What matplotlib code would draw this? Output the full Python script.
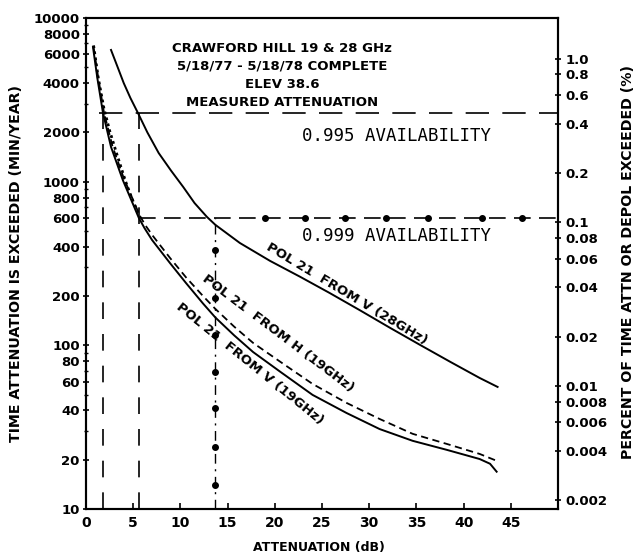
import numpy as np
import matplotlib
matplotlib.use("Agg")
import matplotlib.pyplot as plt
from matplotlib.ticker import FixedLocator, NullLocator, NullFormatter

# ---------------- data ----------------
# POL 21 FROM V (28 GHz), solid
v28_db  = [2.65, 3.3, 4.0, 4.7, 5.5, 6.5, 7.7, 9.0, 10.3, 11.5, 12.8, 13.7, 16.3, 19.5,
           22.7, 25.8, 29.0, 32.2, 35.4, 38.6, 41.7, 43.6]
v28_min = [6380, 5100, 4000, 3250, 2630, 2000, 1496, 1170, 928, 740, 610, 545, 422, 328,
           262, 209, 164, 128, 100.5, 79.2, 63.2, 55.7]

# POL 21 FROM V (19 GHz), solid
v19_db  = [0.74, 1.2, 1.8, 2.65, 3.9, 5.6, 6.2, 7.0, 8.9, 10.6, 12.4, 13.7, 15.7, 17.7,
           20.6, 24.0, 27.6, 31.1, 34.6, 38.2, 41.7, 42.8, 43.5]
v19_min = [6650, 4300, 2630, 1630, 1023, 600, 520, 440, 318, 240, 180, 148, 115, 91,
           68.8, 49.8, 38.6, 30.8, 26.1, 23.0, 20.2, 18.9, 16.9]

# POL 21 FROM H (19 GHz), dashed
h19_db  = [0.8, 1.3, 1.9, 2.8, 4.0, 5.7, 6.3, 7.1, 8.9, 10.6, 12.4, 13.7, 15.7, 17.7,
           20.6, 24.0, 27.6, 31.1, 34.6, 38.2, 41.7, 43.5]
h19_min = [6650, 4300, 2650, 1650, 1050, 620, 540, 465, 342, 260, 200, 167, 130, 103.5,
           79.2, 58.1, 44.5, 35.5, 28.8, 25.0, 21.7, 19.7]

# dotted trace (upper left)
dot_db  = [0.8, 1.3, 1.9, 2.5, 3.3, 4.2, 5.0, 5.6]
dot_min = [6800, 4300, 2800, 2050, 1450, 1000, 750, 630]

# availability levels (min/year) and the attenuations marked
avail_995_min = 2630
avail_999_min = 600
att_19_995 = 1.85
att_28_995 = 5.6
att_28_999 = 13.7
dots_999_db = [19.0, 23.2, 27.4, 31.8, 36.2, 41.9, 46.2]
dots_vert_min = [383, 195, 115, 69, 41.5, 24, 14]

left_ticks = [10, 20, 40, 60, 80, 100, 200, 400, 600, 800, 1000, 2000, 4000, 6000, 8000, 10000]
left_minor = [30, 50, 70, 90, 300, 500, 700, 900, 3000, 5000, 7000, 9000]
pct_ticks = [1.0, 0.8, 0.6, 0.4, 0.2, 0.1, 0.08, 0.06, 0.04, 0.02, 0.01, 0.008, 0.006, 0.004, 0.002]
pct_labels = ["1.0", "0.8", "0.6", "0.4", "0.2", "0.1", "0.08", "0.06", "0.04", "0.02",
              "0.01", "0.008", "0.006", "0.004", "0.002"]
x_ticks = [0, 5, 10, 15, 20, 25, 30, 35, 40, 45]
MIN_PER_PCT = 5650.0

title_lines = ["CRAWFORD HILL 19 & 28 GHz", "5/18/77 - 5/18/78 COMPLETE",
               "ELEV 38.6", "MEASURED ATTENUATION"]

# ---------------- figure ----------------
W, H = 635, 555
fig = plt.figure(figsize=(W / 100, H / 100), dpi=100)
L, R, T, B = 86, 558, 18, 509
ax = fig.add_axes([L / W, 1 - B / H, (R - L) / W, (B - T) / H])
ax.set_yscale("log")
ax.set_xlim(0, 50)
ax.set_ylim(10, 10000)

bold = dict(fontweight="bold", family="DejaVu Sans")

# curves
ax.plot(v28_db, v28_min, color="black", lw=1.4, solid_joinstyle="round")
ax.plot(v19_db, v19_min, color="black", lw=1.4, solid_joinstyle="round")
ax.plot(h19_db, h19_min, color="black", lw=1.3, linestyle=(0, (4, 2.5)))
ax.plot(dot_db, dot_min, color="black", lw=2.0, linestyle=(0, (1, 1.2)))

# availability lines
ax.plot([1.4, 50], [avail_995_min, avail_995_min], color="black", lw=1.2,
        linestyle=(0, (14, 8)))
ax.plot([att_28_995, 50], [avail_999_min, avail_999_min], color="black", lw=1.2,
        linestyle=(0, (10, 5)))
ax.plot(dots_999_db, [avail_999_min] * len(dots_999_db), "o", color="black", ms=4)

ax.plot([att_19_995, att_19_995], [10, avail_995_min], color="black", lw=1.2,
        linestyle=(0, (10, 9)))
ax.plot([att_28_995, att_28_995], [10, avail_995_min], color="black", lw=1.2,
        linestyle=(0, (10, 9)))
ax.plot([att_28_999, att_28_999], [10, avail_999_min], color="black", lw=1.0,
        linestyle=(0, (7, 4, 1.5, 4)))
ax.plot([att_28_999] * len(dots_vert_min), dots_vert_min, "o", color="black", ms=4)

# texts
tx = (282 - L) / (R - L)
for s, py in zip(title_lines, [49, 66, 85, 103]):
    ax.text(tx, 1 - (py - T) / (B - T), s, transform=ax.transAxes, ha="center",
            va="center", fontsize=9.5, **bold)

ax.text((302 - L) / (R - L), 1 - (136 - T) / (B - T), "0.995 AVAILABILITY",
        transform=ax.transAxes, ha="left", va="center", fontsize=12.5,
        family="DejaVu Sans Mono")
ax.text((302 - L) / (R - L), 1 - (236 - T) / (B - T), "0.999 AVAILABILITY",
        transform=ax.transAxes, ha="left", va="center", fontsize=12.5,
        family="DejaVu Sans Mono")

def lbl(px, py, s, ang):
    ax.text((px - L) / (R - L), 1 - (py - T) / (B - T), s, transform=ax.transAxes,
            ha="center", va="center", rotation=ang, rotation_mode="anchor",
            fontsize=9.5, **bold)

lbl(347, 294, "POL 21  FROM V (28GHz)", -31)
lbl(278, 333, "POL 21  FROM H (19GHz)", -37)
lbl(250, 364, "POL 21  FROM V (19GHz)", -39)

# axes styling
for sp in ax.spines.values():
    sp.set_linewidth(1.5)

ax.yaxis.set_major_locator(FixedLocator(left_ticks))
ax.set_yticklabels([str(v) for v in left_ticks])
ax.yaxis.set_minor_locator(FixedLocator(left_minor))
ax.yaxis.set_minor_formatter(NullFormatter())
ax.tick_params(axis="y", which="major", direction="inout", length=5, width=1.2,
               labelsize=9.5, pad=2)
ax.tick_params(axis="y", which="minor", direction="inout", length=3, width=1.0)
ax.set_xticks(x_ticks)
ax.set_xticklabels([str(v) for v in x_ticks])
ax.tick_params(axis="x", which="major", direction="in", length=4, width=1.2,
               labelsize=10, pad=5)
for t in ax.get_xticklabels() + ax.get_yticklabels():
    t.set_fontweight("bold")

ax2 = ax.twinx()
ax2.set_yscale("log")
ax2.set_ylim(10 / MIN_PER_PCT, 10000 / MIN_PER_PCT)
ax2.yaxis.set_major_locator(FixedLocator(pct_ticks))
ax2.set_yticklabels(pct_labels)
ax2.yaxis.set_minor_locator(NullLocator())
ax2.tick_params(axis="y", direction="inout", length=5, width=1.2, labelsize=9.5, pad=3)
for t in ax2.get_yticklabels():
    t.set_fontweight("bold")
for sp in ax2.spines.values():
    sp.set_linewidth(1.5)

fig.text(16 / W, 1 - 263 / H, "TIME ATTENUATION IS EXCEEDED (MIN/YEAR)", rotation=90,
         ha="center", va="center", fontsize=10.2, **bold)
fig.text(628 / W, 1 - 262 / H, "PERCENT OF TIME ATTN OR DEPOL EXCEEDED (%)", rotation=90,
         ha="center", va="center", fontsize=10.2, **bold)
fig.text(319 / W, 1 - 547 / H, "ATTENUATION (dB)", ha="center", va="center",
         fontsize=9, **bold)

fig.savefig("out.png", dpi=100, facecolor="white")
